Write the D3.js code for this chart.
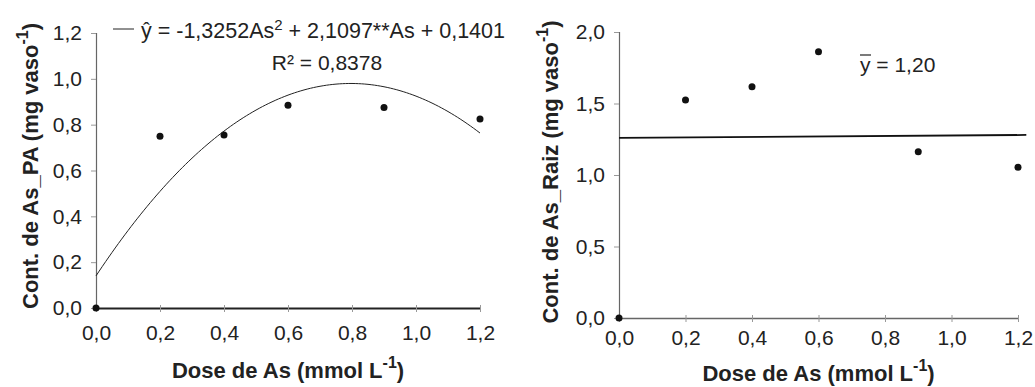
<!DOCTYPE html>
<html>
<head>
<meta charset="utf-8">
<script src="https://cdn.jsdelivr.net/npm/d3@7"></script>
<style>
  body { margin: 0; background: #fff; }
  svg text { font-family: "Liberation Sans", Arial, sans-serif; fill: #222; }
</style>
</head>
<body>
<svg id="chart" width="1035" height="387"></svg>
<script>
// values
const doses = [0, 0.2, 0.4, 0.6, 0.9, 1.2];
const asPA = [0, 0.75, 0.755, 0.885, 0.875, 0.825];
const asRaiz = [0, 1.524, 1.617, 1.862, 1.163, 1.054];
const fitCoef = [-1.3252, 2.1097, 0.1401]; // a*x^2 + b*x + c
const meanLine = [[0, 1.26], [1.225, 1.28]];
const xTicks = [0, 0.2, 0.4, 0.6, 0.8, 1.0, 1.2];
const yTicksPA = [0, 0.2, 0.4, 0.6, 0.8, 1.0, 1.2];
const yTicksRaiz = [0, 0.5, 1.0, 1.5, 2.0];

const fmt = d => d3.format(".1f")(d).replace(".", ",");
const svg = d3.select("#chart");

function drawPanel(cfg) {
  const x = d3.scaleLinear().domain([0, 1.2]).range([cfg.x0, cfg.x1]);
  const y = d3.scaleLinear().domain(cfg.yDomain).range([cfg.y0, cfg.y1]);
  const g = svg.append("g");

  // y axis
  const yAxis = g.append("g").attr("transform", `translate(${cfg.x0},0)`)
    .call(d3.axisLeft(y).tickValues(cfg.yTicks).tickFormat(fmt).tickSize(5).tickPadding(9));
  yAxis.select(".domain").attr("stroke", "#666").attr("stroke-width", 1.2);
  yAxis.selectAll(".tick line").attr("stroke", "#999");
  yAxis.selectAll("text").style("font-size", "21px").attr("fill", "#222");

  // x axis
  const xAxis = g.append("g").attr("transform", `translate(0,${cfg.y0})`)
    .call(d3.axisBottom(x).tickValues(xTicks).tickFormat(fmt).tickSizeInner(4).tickSizeOuter(0).tickPadding(cfg.xPad));
  xAxis.select(".domain").attr("stroke", cfg.xAxisColor).attr("stroke-width", cfg.xAxisWidth);
  xAxis.selectAll(".tick line").attr("stroke", "#999").attr("y1", -3);
  xAxis.selectAll("text").style("font-size", "21px").attr("fill", "#222");

  // axis titles
  const xt = g.append("text").attr("x", (cfg.x0 + cfg.x1) / 2).attr("y", cfg.xTitleY)
    .attr("text-anchor", "middle").style("font-weight", "bold").style("font-size", "22px");
  xt.append("tspan").text("Dose de As (mmol L");
  xt.append("tspan").text("-1").attr("dy", -10).style("font-size", "16px");
  xt.append("tspan").text(")").attr("dy", 10);

  const yt = g.append("text")
    .attr("transform", `translate(${cfg.titleX},${cfg.titleY}) rotate(-90)`)
    .attr("text-anchor", "middle").style("font-weight", "bold").style("font-size", "22px");
  yt.append("tspan").text(cfg.yTitle + " (mg vaso");
  yt.append("tspan").text("-1").attr("dy", -10).style("font-size", "16px");
  yt.append("tspan").text(")").attr("dy", 10);

  // points
  g.selectAll("circle.pt").data(d3.zip(doses, cfg.values)).enter()
    .append("circle").attr("class", "pt")
    .attr("cx", d => x(d[0])).attr("cy", d => y(d[1])).attr("r", 3.5)
    .attr("fill", "#111");

  return { g, x, y };
}

// left panel
const left = drawPanel({
  x0: 96, x1: 480, y0: 308, y1: 33, yDomain: [0, 1.2], yTicks: yTicksPA,
  values: asPA, yTitle: "Cont. de As_PA", titleX: 38, titleY: 166,
  xPad: 13, xAxisColor: "#222", xAxisWidth: 1.8, xTitleY: 378
});
const fitPts = d3.range(0, 1.2001, 0.01).map(v => [v, fitCoef[0] * v * v + fitCoef[1] * v + fitCoef[2]]);
left.g.append("path").datum(fitPts)
  .attr("d", d3.line().x(d => left.x(d[0])).y(d => left.y(d[1])))
  .attr("fill", "none").attr("stroke", "#222").attr("stroke-width", 1);

// equation legend
left.g.append("line").attr("x1", 113).attr("x2", 134).attr("y1", 29).attr("y2", 29)
  .attr("stroke", "#222").attr("stroke-width", 1);
const eq = left.g.append("text").attr("x", 141).attr("y", 38).style("font-size", "21.5px");
eq.append("tspan").text("ŷ");
eq.append("tspan").text(" = -1,3252As");
eq.append("tspan").text("2").attr("dy", -8).style("font-size", "15px");
eq.append("tspan").text(" + 2,1097**As + 0,1401").attr("dy", 8);
left.g.append("text").attr("x", 327).attr("y", 70).attr("text-anchor", "middle")
  .style("font-size", "21px").text("R² = 0,8378");

// right panel
const right = drawPanel({
  x0: 619, x1: 1018, y0: 318, y1: 32, yDomain: [0, 2.0], yTicks: yTicksRaiz,
  values: asRaiz, yTitle: "Cont. de As_Raiz", titleX: 558, titleY: 172,
  xPad: 8, xAxisColor: "#666", xAxisWidth: 1.3, xTitleY: 381
});
right.g.append("path").datum(meanLine)
  .attr("d", d3.line().x(d => right.x(d[0])).y(d => right.y(d[1])))
  .attr("fill", "none").attr("stroke", "#111").attr("stroke-width", 1.8);
right.g.append("text").attr("x", 860).attr("y", 72).style("font-size", "21px").text("y = 1,20");
right.g.append("line").attr("x1", 860).attr("x2", 871).attr("y1", 55).attr("y2", 55)
  .attr("stroke", "#222").attr("stroke-width", 1.2);
</script>
</body>
</html>
